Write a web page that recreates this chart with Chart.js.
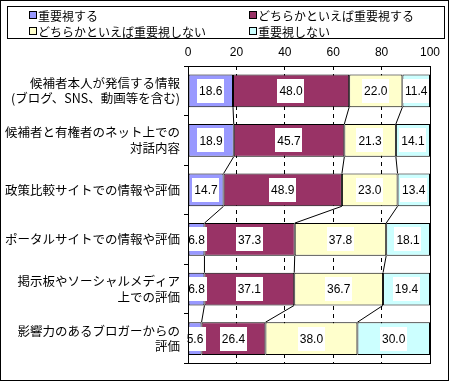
<!DOCTYPE html>
<html>
<head>
<meta charset="utf-8">
<script src="https://cdn.jsdelivr.net/npm/chart.js@4"></script>
<style>
  html, body { margin: 0; padding: 0; background: #fff; }
  #wrap { width: 450px; height: 383px; }
</style>
</head>
<body>
<div id="wrap"><canvas id="myChart" width="450" height="383"></canvas></div>
<script>
var categories = [
  ['候補者本人が発信する情報', '(ブログ、SNS、動画等を含む)'],
  ['候補者と有権者のネット上での', '対話内容'],
  '政策比較サイトでの情報や評価',
  'ポータルサイトでの情報や評価',
  ['掲示板やソーシャルメディア', '上での評価'],
  ['影響力のあるブロガーからの', '評価']
];
var seriesNames = ['重要視する', 'どちらかといえば重要視する', 'どちらかといえば重要視しない', '重要視しない'];
var seriesColors = ['#9999FF', '#993366', '#FFFFCC', '#CCFFFF'];
var important = [18.6, 18.9, 14.7, 6.8, 6.8, 5.6];
var ratherImportant = [48.0, 45.7, 48.9, 37.3, 37.1, 26.4];
var ratherNot = [22.0, 21.3, 23.0, 37.8, 36.7, 38.0];
var notImportant = [11.4, 14.1, 13.4, 18.1, 19.4, 30.0];
var xTicks = [0, 20, 40, 60, 80, 100];

var jpFont = '"Noto Sans CJK JP", "Liberation Sans", sans-serif';
var numFont = '"Liberation Sans", Arial, sans-serif';

var values = [important, ratherImportant, ratherNot, notImportant];
var datasets = values.map(function (v, i) {
  return {
    label: seriesNames[i],
    data: v,
    backgroundColor: seriesColors[i],
    borderColor: '#000',
    borderWidth: 1,
    borderSkipped: false,
    barPercentage: 1,
    categoryPercentage: 0.66
  };
});

// outer frame, legend box, plot frame and series lines
var decor = {
  id: 'decor',
  beforeDatasetsDraw: function (chart) {
    var c = chart.ctx, a = chart.chartArea;
    c.save();
    c.strokeStyle = '#000';
    c.lineWidth = 1;
    // series lines between bars
    var metas = [0, 1, 2].map(function (i) { return chart.getDatasetMeta(i); });
    for (var r = 0; r < categories.length - 1; r++) {
      metas.forEach(function (m) {
        var e1 = m.data[r], e2 = m.data[r + 1];
        c.beginPath();
        c.moveTo(e1.x, e1.y + e1.height / 2);
        c.lineTo(e2.x, e2.y - e2.height / 2);
        c.stroke();
      });
    }
    c.restore();
  },
  afterDraw: function (chart) {
    var c = chart.ctx, a = chart.chartArea;
    c.save();
    c.strokeStyle = '#000';
    c.lineWidth = 1;
    c.strokeRect(Math.round(a.left) + 0.5, Math.round(a.top) + 0.5,
      Math.round(a.right - a.left), Math.round(a.bottom - a.top));
    c.strokeRect(0.5, 0.5, 448, 380);
    // legend
    c.strokeRect(7.5, 6.5, 437, 32);
    c.font = '12px ' + jpFont;
    c.textBaseline = 'middle';
    c.textAlign = 'left';
    var pos = [[29, 15], [249, 15], [29, 31], [249, 31]];
    chart.data.datasets.forEach(function (ds, i) {
      var p = pos[i];
      c.fillStyle = ds.backgroundColor;
      c.fillRect(p[0], p[1] - 4, 7, 7);
      c.strokeRect(p[0] + 0.5, p[1] - 3.5, 7, 7);
      c.fillStyle = '#000';
      c.fillText(ds.label, p[0] + 9, p[1] + 1);
    });
    c.restore();
  },
  afterDatasetsDraw: function (chart) {
    var c = chart.ctx;
    c.save();
    c.font = '12px ' + numFont;
    c.textAlign = 'center';
    c.textBaseline = 'middle';
    chart.data.datasets.forEach(function (ds, i) {
      chart.getDatasetMeta(i).data.forEach(function (el, j) {
        var txt = ds.data[j].toFixed(1);
        var cx = (el.x + el.base) / 2, cy = el.y;
        var w = c.measureText(txt).width + 4;
        c.fillStyle = '#fff';
        c.fillRect(Math.round(cx - w / 2), Math.round(cy - 12), Math.round(w), 24);
        c.fillStyle = '#000';
        c.fillText(txt, cx, cy + 1);
      });
    });
    c.restore();
  }
};

var ctx = document.getElementById('myChart').getContext('2d');
var myChart = new Chart(ctx, {
  type: 'bar',
  data: { labels: categories, datasets: datasets },
  options: {
    indexAxis: 'y',
    responsive: false,
    animation: false,
    layout: { padding: { top: 46, left: 0, right: 20, bottom: 6 } },
    plugins: {
      legend: { display: false },
      tooltip: { enabled: false }
    },
    scales: {
      x: {
        position: 'top',
        stacked: true,
        min: 0,
        max: 100,
        afterBuildTicks: function (axis) {
          axis.ticks = xTicks.map(function (v) { return { value: v }; });
        },
        afterFit: function (axis) { axis.height = 20; },
        grid: {
          color: function (c) { return (c.tick && (c.tick.value === 0 || c.tick.value === 100)) ? 'rgba(0,0,0,0)' : '#000'; },
          drawTicks: false,
          lineWidth: 1
        },
        border: { display: false, dash: [4, 4] },
        ticks: { color: '#000', padding: 6, font: { family: numFont, size: 12 } }
      },
      y: {
        stacked: true,
        afterFit: function (axis) { axis.width = 188; },
        grid: {
          offset: true,
          drawOnChartArea: false,
          drawTicks: true,
          tickLength: 4,
          color: '#000'
        },
        border: { display: false },
        ticks: {
          color: '#000',
          padding: 4,
          font: { family: jpFont, size: 12.5, lineHeight: 1.25 }
        }
      }
    }
  },
  plugins: [decor]
});
</script>
</body>
</html>
